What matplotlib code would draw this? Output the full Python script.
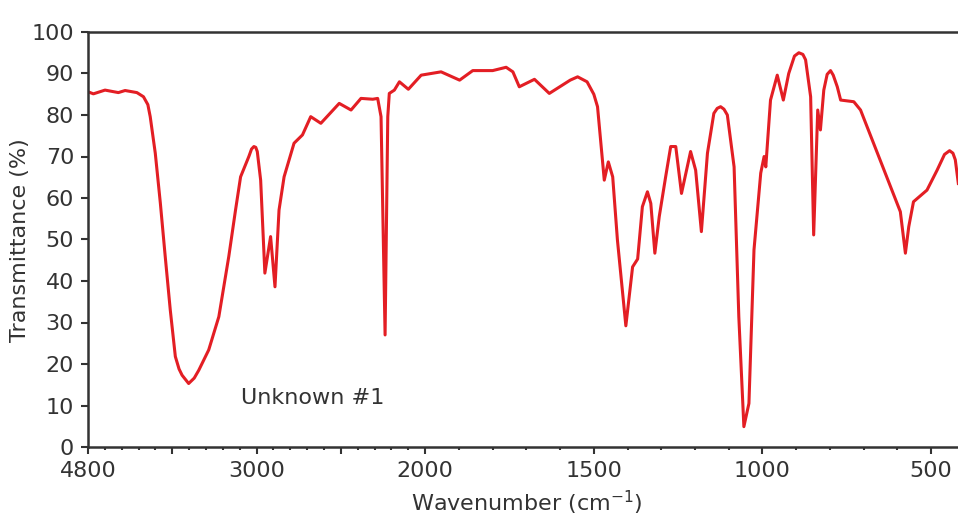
import numpy as np
import matplotlib.pyplot as plt

# IR spectrum (wavenumber cm-1, transmittance %)
wavenumber = [4000, 3968, 3899, 3820, 3780, 3710, 3671, 3645, 3631, 3601,
              3571, 3542, 3512, 3482, 3460, 3442, 3403, 3370, 3343, 3284,
              3224, 3165, 3125, 3095, 3046, 3030, 3016, 3005, 2996, 2976,
              2951, 2917, 2891, 2867, 2837, 2778, 2728, 2679, 2619, 2510,
              2440, 2381, 2311, 2282, 2262, 2238, 2222, 2213, 2183, 2153,
              2100, 2024, 1953, 1898, 1859, 1800, 1760, 1740, 1721, 1676,
              1632, 1570, 1548, 1520, 1500, 1489, 1469, 1457, 1444, 1430,
              1405, 1385, 1370, 1356, 1341, 1331, 1319, 1306, 1287, 1272,
              1257, 1240, 1213, 1198, 1181, 1163, 1144, 1134, 1124, 1114,
              1104, 1084, 1070, 1055, 1040, 1025, 1005, 995, 990, 976,
              956, 938, 922, 905, 892, 880, 872, 857, 848, 836,
              828, 818, 808, 798, 790, 778, 768, 729, 709, 591,
              576, 566, 552, 512, 482, 460, 445, 435, 428, 419]
transmittance = [85.6, 85.1, 86.0, 85.4, 85.9, 85.4, 84.4, 82.5, 79.6, 70.8,
                 58.8, 45.9, 33.0, 21.8, 18.8, 17.3, 15.3, 16.6, 18.5, 23.4,
                 31.4, 45.9, 57.1, 65.1, 70.0, 71.8, 72.4, 72.2, 71.2, 64.3,
                 41.9, 50.7, 38.6, 57.1, 65.1, 73.2, 75.2, 79.6, 78.0, 82.8,
                 81.2, 84.0, 83.8, 84.0, 79.6, 27.0, 79.6, 85.2, 86.0, 88.0,
                 86.2, 89.6, 90.4, 88.4, 90.7, 90.7, 91.5, 90.4, 86.8, 88.6,
                 85.2, 88.4, 89.2, 88.0, 85.0, 82.0, 64.3, 68.7, 65.1, 49.9,
                 29.2, 43.4, 45.3, 57.9, 61.5, 58.7, 46.7, 55.5, 65.1, 72.4,
                 72.4, 61.1, 71.2, 66.7, 51.9, 70.8, 80.4, 81.6, 82.0, 81.4,
                 80.0, 67.5, 31.4, 4.9, 10.5, 47.5, 66.0, 70.0, 67.5, 83.6,
                 89.6, 83.6, 90.0, 94.2, 95.0, 94.6, 93.3, 84.4, 51.1, 81.2,
                 76.4, 86.0, 89.8, 90.7, 89.6, 86.8, 83.6, 83.2, 81.2, 56.7,
                 46.7, 53.1, 59.1, 61.9, 66.7, 70.5, 71.4, 70.8, 69.2, 63.5]

major_ticks = [4000, 3500, 3000, 2500, 2000, 1500, 1000, 500]
major_labels = ['4800', '', '3000', '', '2000', '1500', '1000', '500']
minor_ticks = [w for w in range(4000, 400, -100) if w not in major_ticks]
y_ticks = list(range(0, 101, 10))

plt.rcParams['font.family'] = ['DejaVu Sans']
txt = '#333333'


# scale change at 2000 cm-1: twice as stretched below it
def fwd(w):
    w = np.asarray(w, dtype=float)
    return np.where(w >= 2000, w, 2000 - 2 * (2000 - w))


def inv(u):
    u = np.asarray(u, dtype=float)
    return np.where(u >= 2000, u, 2000 - (2000 - u) / 2)


fig = plt.figure(figsize=(9.58, 5.19), dpi=100)
ax = fig.add_axes([88 / 958, 1 - 447 / 519, 1 - 88 / 958, 415 / 519])
ax.set_xscale('function', functions=(fwd, inv))

ax.plot(wavenumber, transmittance, color='#e31e24', lw=2.2,
        solid_joinstyle='round')

ax.set_xlim(4000, 420)
ax.set_ylim(0, 100)
ax.set_xticks(major_ticks)
ax.set_xticklabels(major_labels)
ax.set_xticks(minor_ticks, minor=True)
ax.set_yticks(y_ticks)

ax.tick_params(axis='both', which='major', direction='out', length=5,
               width=1.5, color=txt, labelsize=16, labelcolor=txt, pad=5)
ax.tick_params(axis='x', which='minor', direction='out', length=2.5,
               width=1.5, color=txt)

for s in ['left', 'bottom', 'top']:
    ax.spines[s].set_linewidth(1.8)
    ax.spines[s].set_color(txt)
ax.spines['right'].set_visible(False)

ax.text(3095, 11.8, 'Unknown #1', fontsize=16, color=txt,
        ha='left', va='center')

fig.text(20 / 958, 1 - 240 / 519, 'Transmittance (%)', rotation=90,
         fontsize=16, color=txt, ha='center', va='center')
fig.text(527 / 958, 1 - 503 / 519, 'Wavenumber (cm$^{-1}$)',
         fontsize=16, color=txt, ha='center', va='center')

fig.savefig('out.png', dpi=100)
